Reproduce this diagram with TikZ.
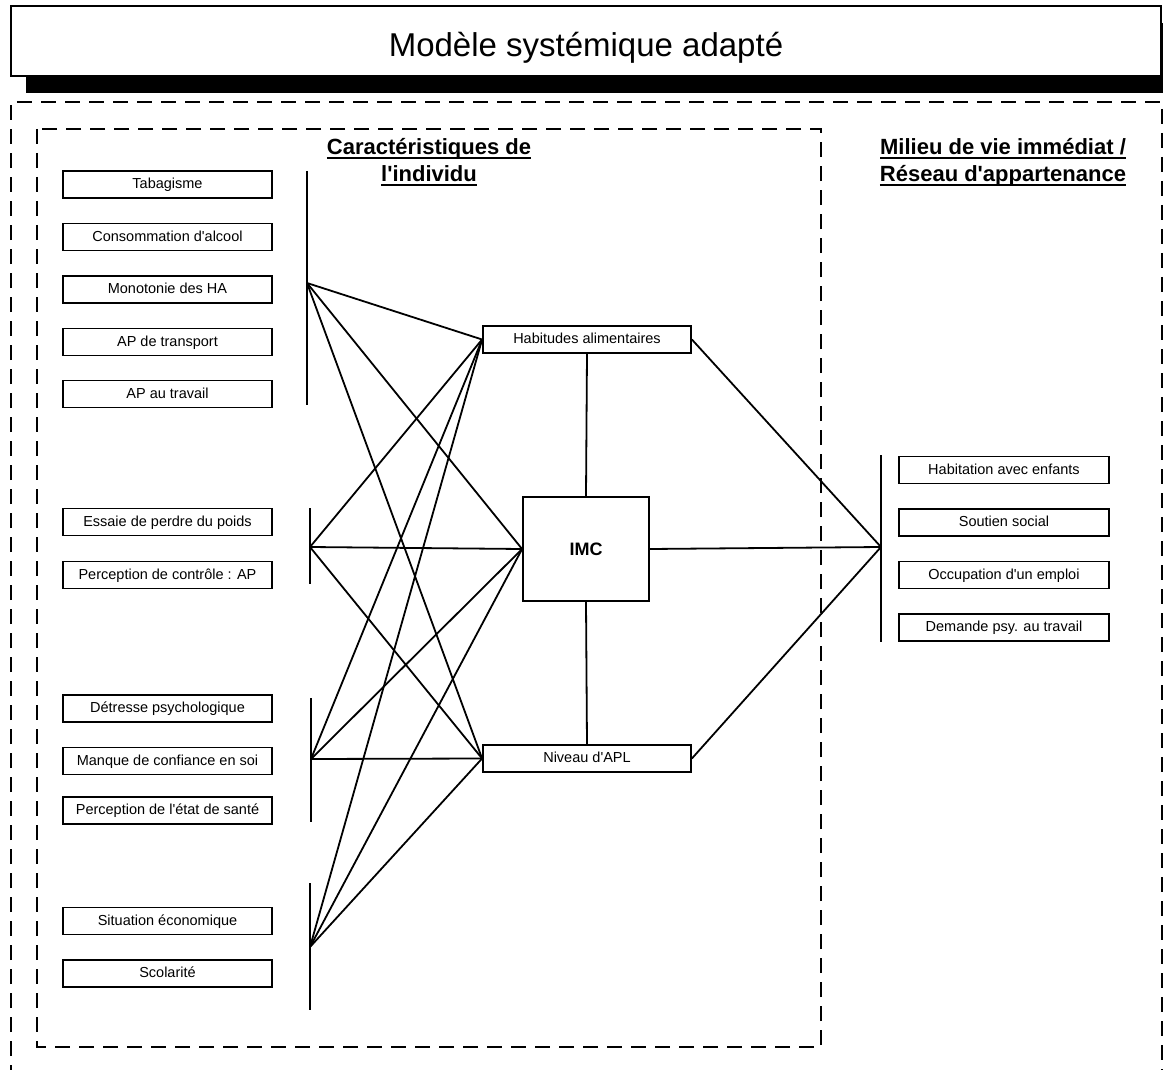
\documentclass[tikz,border=0pt]{standalone}
\usepackage{fontspec}
\setmainfont{Liberation Sans}
\newsavebox{\myulbox}
\newcommand{\myul}[1]{\sbox{\myulbox}{#1}\leavevmode\rlap{\rule[-4.8pt]{\wd\myulbox}{1.6pt}}\usebox{\myulbox}}
\newcommand{\sq}{\textquotesingle}
\usetikzlibrary{shadows}
\begin{document}
\begin{tikzpicture}[x=1pt,y=-1pt,
  box/.style={draw, line width=1.8pt, fill=white, inner sep=0pt,
    minimum width=209pt, minimum height=27pt, text height=10.5pt, text depth=2pt,
    font=\fontsize{14.5}{17}\selectfont},
  cbox/.style={box, minimum width=208pt},
  conn/.style={line width=1.8pt},
  bar/.style={line width=2pt},
  dashbox/.style={line width=2pt, dash pattern=on 15pt off 9pt},
  hdr/.style={font=\fontsize{22}{27}\selectfont\bfseries, align=center, inner sep=0pt}]
\useasboundingbox (0,0) rectangle (1163,1070);
\fill[white] (0,0) rectangle (1163,1070);

% title with shadow
\node[draw, line width=2pt, fill=white, inner sep=0pt,
  minimum width=1150pt, minimum height=70pt,
  drop shadow={shadow xshift=15pt, shadow yshift=-17pt, opacity=1, fill=black},
  font=\fontsize{33}{40}\selectfont] (title) at (586,41)
  {\raisebox{-7pt}[\height][\depth]{Modèle systémique adapté}};

% dashed frames
\draw[dashbox] (11,1080) -- (11,102) -- (1162,102) -- (1162,1080);
\draw[dashbox] (37,129) rectangle (821,1047);

% headers
\node[hdr] (h1) at (429,162) {\myul{Caractéristiques de}\\\myul{l\sq individu}};
\node[hdr] (h2) at (1003,162) {\myul{Milieu de vie immédiat /}\\\myul{Réseau d\sq appartenance}};

% bars and junctions
\coordinate (b1t) at (307,171); \coordinate (b1b) at (307,405); \coordinate (j1) at (307,283);
\coordinate (b2t) at (310,508); \coordinate (b2b) at (310,584); \coordinate (j2) at (310,547);
\coordinate (b3t) at (311,698); \coordinate (b3b) at (311,822); \coordinate (j3) at (311,759);
\coordinate (b4t) at (310,883); \coordinate (b4b) at (310,1010); \coordinate (j4) at (310,947);
\coordinate (brt) at (881,455); \coordinate (brb) at (881,642); \coordinate (jr) at (881,547);
\draw[bar] (b1t) -- (b1b);
\draw[bar] (b2t) -- (b2b);
\draw[bar] (b3t) -- (b3b);
\draw[bar] (b4t) -- (b4b);
\draw[bar] (brt) -- (brb);

% center nodes
\node[cbox] (ha) at (587,339.5) {Habitudes alimentaires};
\node[draw, line width=1.8pt, fill=white, inner sep=0pt, minimum width=126pt, minimum height=104pt,
  font=\fontsize{18}{21}\selectfont\bfseries] (imc) at (586,549) {IMC};
\node[cbox] (apl) at (587,758.5) {Niveau d\sq APL};

% connectors
\foreach \j in {j1,j2,j3,j4}{
  \draw[conn] (\j) -- (ha.west);
  \draw[conn] (\j) -- (imc.west);
  \draw[conn] (\j) -- (apl.west);
}
\draw[conn] (ha.south) -- (imc.north);
\draw[conn] (imc.south) -- (apl.north);
\draw[conn] (ha.east) -- (jr);
\draw[conn] (imc.east) -- (jr);
\draw[conn] (apl.east) -- (jr);

% left boxes
\node[box] (tab) at (167.5,184.5) {Tabagisme};
\node[box] (alc) at (167.5,237) {Consommation d\sq alcool};
\node[box] (mon) at (167.5,289.5) {Monotonie des HA};
\node[box] (apt) at (167.5,342) {AP de transport};
\node[box] (apw) at (167.5,394) {AP au travail};
\node[box] (ess) at (167.5,522) {Essaie de perdre du poids};
\node[box] (pca) at (167.5,575) {Perception de contrôle : AP};
\node[box] (det) at (167.5,708.5) {Détresse psychologique};
\node[box] (man) at (167.5,761) {Manque de confiance en soi};
\node[box] (pes) at (167.5,810.5) {Perception de l\sq état de santé};
\node[box] (sit) at (167.5,921) {Situation économique};
\node[box] (sco) at (167.5,973.5) {Scolarité};

% right boxes
\node[box, minimum width=210pt] (hab) at (1004,470) {Habitation avec enfants};
\node[box, minimum width=210pt] (sou) at (1004,522.5) {Soutien social};
\node[box, minimum width=210pt] (occ) at (1004,575) {Occupation d\sq un emploi};
\node[box, minimum width=210pt] (dem) at (1004,627.5) {Demande psy. au travail};
\end{tikzpicture}
\end{document}
